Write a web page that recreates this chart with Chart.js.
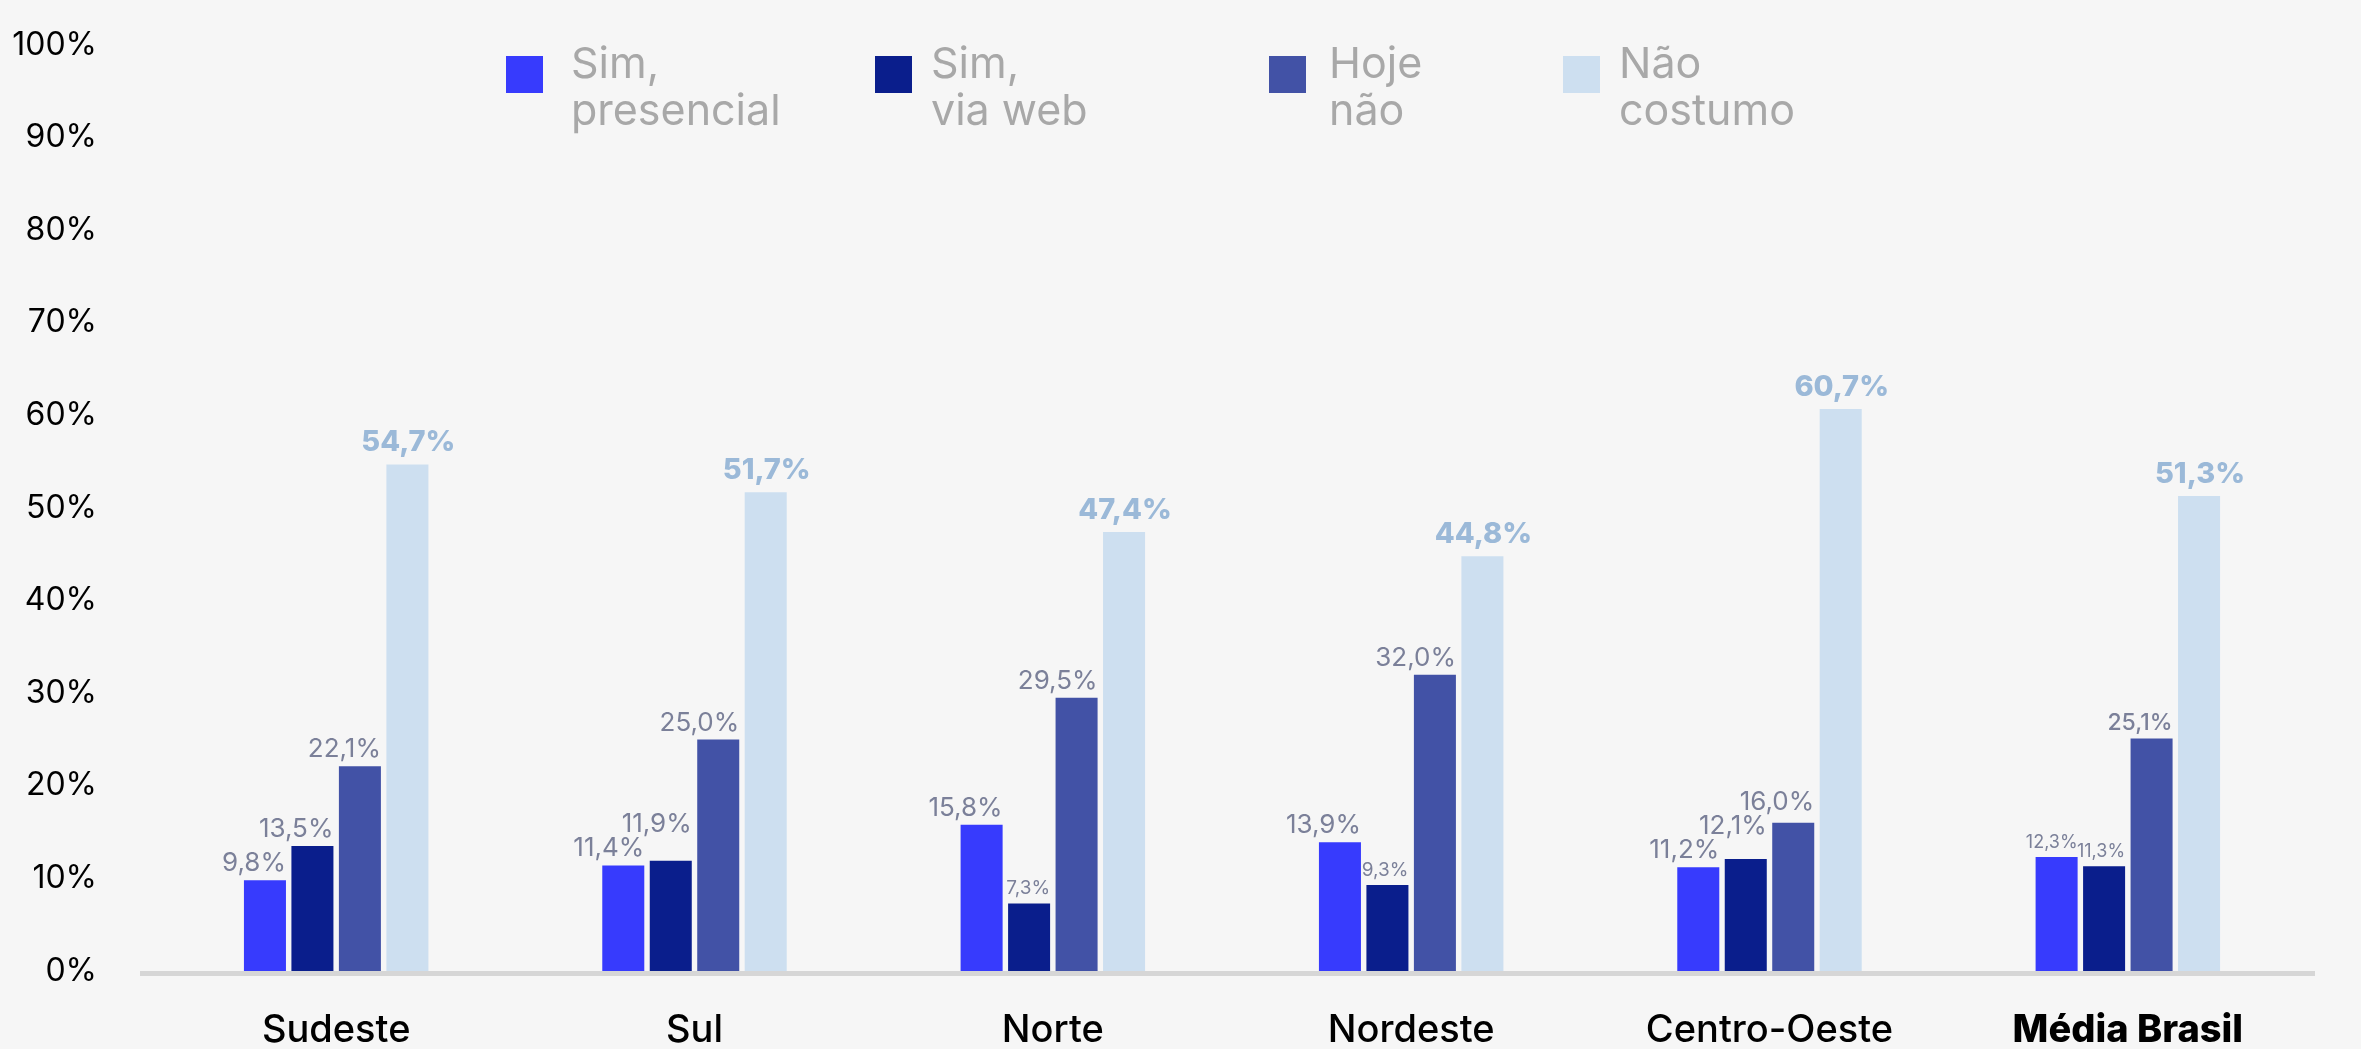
<!DOCTYPE html>
<html lang="pt-BR">
<head>
<meta charset="utf-8">
<title>Costuma participar de eventos?</title>
<script src="https://cdn.jsdelivr.net/npm/chart.js@4/dist/chart.umd.min.js"></script>
<style>
  html, body { margin: 0; padding: 0; background: #f6f6f6; overflow: hidden; }
  #wrap { position: relative; width: 2361px; height: 1100px; }
</style>
</head>
<body>
<div id="wrap"><canvas id="chart"></canvas></div>
<script>
// Regions on the x axis
const regions = ['Sudeste', 'Sul', 'Norte', 'Nordeste', 'Centro-Oeste', 'Média Brasil'];

// Answer series (percent of respondents)
const seriesNames = ['Sim, presencial', 'Sim, via web', 'Hoje não', 'Não costumo'];
const legendLines = [['Sim,', 'presencial'], ['Sim,', 'via web'], ['Hoje', 'não'], ['Não', 'costumo']];
const simPresencial = [9.8, 11.4, 15.8, 13.9, 11.2, 12.3];
const simViaWeb     = [13.5, 11.9, 7.3, 9.3, 12.1, 11.3];
const hojeNao       = [22.1, 25.0, 29.5, 32.0, 16.0, 25.1];
const naoCostumo    = [54.7, 51.7, 47.4, 44.8, 60.7, 51.3];

// Y axis ticks
const yTickValues = [0, 10, 20, 30, 40, 50, 60, 70, 80, 90, 100];

// ---- styling ----
const FONT = 'Inter';
const colors = ['#373bfd', '#0a1e8c', '#4252a6', '#cddff0'];
const labelGray = '#7b8099';
const labelBlue = '#9bb9d8';
const legendGray = '#a8a8a8';
const legendBoxX = [506, 875, 1269, 1563];
const legendTextX = [571, 931, 1329, 1619];
// compact value labels: "category-series" -> font size
const compactLabels = { '2-1': 19, '3-1': 19, '5-0': 18, '5-1': 18 };

const fmt = v => v.toFixed(1).replace('.', ',') + '%';

const backgroundPlugin = {
  id: 'bg',
  beforeDraw(chart) {
    const { ctx, width, height } = chart;
    ctx.save();
    ctx.fillStyle = '#f6f6f6';
    ctx.fillRect(0, 0, width, height);
    ctx.restore();
  }
};

const baselinePlugin = {
  id: 'baseline',
  afterDatasetsDraw(chart) {
    const { ctx, chartArea } = chart;
    const y0 = chart.scales.y.getPixelForValue(0);
    ctx.save();
    ctx.fillStyle = '#d6d6d6';
    ctx.fillRect(chartArea.left - 17, Math.round(y0), chartArea.right - chartArea.left + 25, 5);
    ctx.restore();
  }
};

// Value labels above bars; the three smaller series are right-aligned to
// the bar edge and nudged upward when they would collide with a neighbour.
const valueLabelPlugin = {
  id: 'valueLabels',
  afterDatasetsDraw(chart) {
    const { ctx } = chart;
    ctx.save();
    ctx.textBaseline = 'alphabetic';
    const nCat = chart.data.labels.length;
    for (let ci = 0; ci < nCat; ci++) {
      const placed = [];
      chart.data.datasets.forEach((ds, si) => {
        const bar = chart.getDatasetMeta(si).data[ci];
        const text = fmt(ds.data[ci]);
        if (si === 3) {
          ctx.font = `800 29px ${FONT}`;
          ctx.fillStyle = labelBlue;
          ctx.textAlign = 'center';
          ctx.fillText(text, bar.x + 1, bar.y - 13);
          return;
        }
        let size = compactLabels[ci + '-' + si] || 26;
        let weight = 400;
        if (ci === 5 && si === 2) { size = 23; weight = 500; }
        ctx.font = `${weight} ${size}px ${FONT}`;
        const w = ctx.measureText(text).width;
        const right = bar.x + bar.width / 2;
        const left = right - w;
        const capH = size * 0.74;
        let base = bar.y - 9;
        placed.forEach(p => {
          const hOverlap = left < p.right - 5 && right > p.left + 5;
          const vOverlap = base > p.base - p.capH - 4 && base - capH < p.base + 4;
          if (hOverlap && vOverlap) base = p.base - p.capH - 5;
        });
        ctx.fillStyle = labelGray;
        ctx.textAlign = 'right';
        ctx.fillText(text, right, base);
        placed.push({ left, right, base, capH });
      });
    }
    ctx.restore();
  }
};

const legendPlugin = {
  id: 'twoLineLegend',
  afterDraw(chart) {
    const { ctx } = chart;
    ctx.save();
    chart.data.datasets.forEach((ds, i) => {
      ctx.fillStyle = ds.backgroundColor;
      ctx.fillRect(legendBoxX[i], 56, 37, 37);
      ctx.font = `400 43px ${FONT}`;
      ctx.fillStyle = legendGray;
      ctx.textAlign = 'left';
      ctx.textBaseline = 'alphabetic';
      legendLines[i].forEach((line, li) => {
        ctx.fillText(line, legendTextX[i], 78 + li * 47);
      });
    });
    ctx.restore();
  }
};

function draw() {
  const seriesValues = [simPresencial, simViaWeb, hojeNao, naoCostumo];
  new Chart(document.getElementById('chart'), {
    type: 'bar',
    data: {
      labels: regions,
      datasets: seriesNames.map((name, i) => ({
        label: name,
        data: seriesValues[i],
        backgroundColor: colors[i],
        borderWidth: 0,
        categoryPercentage: 0.53,
        barPercentage: 0.885
      }))
    },
    options: {
      responsive: true,
      maintainAspectRatio: false,
      animation: false,
      layout: { padding: { top: 45, right: 54, bottom: 0, left: 0 } },
      plugins: { legend: { display: false }, tooltip: { enabled: false } },
      scales: {
        x: {
          grid: { display: false, drawTicks: false },
          border: { display: false },
          ticks: {
            padding: 37,
            color: '#000',
            maxRotation: 0,
            autoSkip: false,
            font: (ctx) => ({ family: FONT, size: 38, weight: ctx.index === 5 ? '800' : '500' })
          },
          afterFit(scale) { scale.height = 129; }
        },
        y: {
          min: 0,
          max: 100,
          afterBuildTicks(scale) { scale.ticks = yTickValues.map(v => ({ value: v })); },
          ticks: {
            padding: 60,
            color: '#000',
            font: { family: FONT, size: 32, weight: '400' },
            callback: v => v + '%'
          },
          grid: { display: false, drawTicks: false },
          border: { display: false },
          afterFit(scale) {
            scale.width = 157;
            scale.paddingTop = 0;
            scale.paddingBottom = 0;
          }
        }
      }
    },
    plugins: [backgroundPlugin, baselinePlugin, valueLabelPlugin, legendPlugin]
  });
}

Promise.all([
  document.fonts.load(`400 40px ${FONT}`),
  document.fonts.load(`500 38px ${FONT}`),
  document.fonts.load(`800 38px ${FONT}`)
]).then(draw, draw);
</script>
</body>
</html>
